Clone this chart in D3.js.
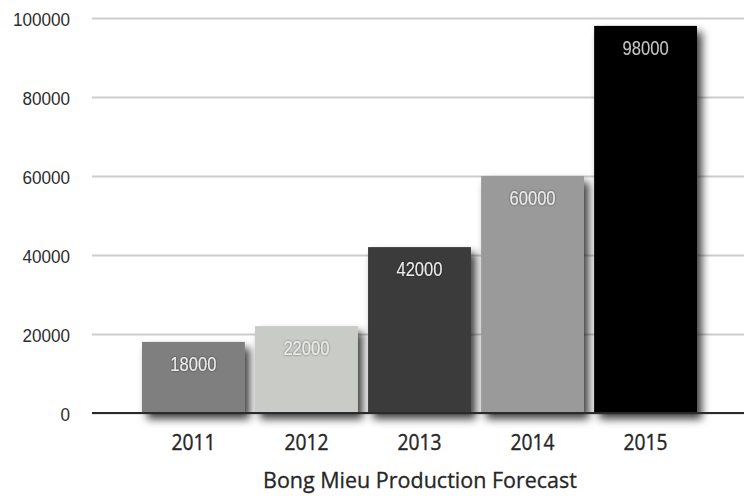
<!DOCTYPE html>
<html>
<head>
<meta charset="utf-8">
<script src="https://cdn.jsdelivr.net/npm/d3@7"></script>
<style>
  html, body { margin: 0; padding: 0; background: #fff; }
  svg { display: block; }
</style>
</head>
<body>
<svg id="chart" width="744" height="496"></svg>
<script>
// Production forecast, one bar per year
const years = ["2011", "2012", "2013", "2014", "2015"];
const production = [18000, 22000, 42000, 60000, 98000];
const barColors = ["#7f7f7f", "#c9ccc6", "#3a3a3a", "#9a9a9a", "#000000"];
const yTicks = [0, 20000, 40000, 60000, 80000, 100000];
const chartTitle = "Bong Mieu Production Forecast";

const rows = years.map((yr, i) => ({ year: yr, value: production[i], color: barColors[i] }));

const svg = d3.select("#chart");
const plot = { left: 92, right: 744, top: 18, bottom: 413 };

const x = d3.scaleBand()
  .domain(years)
  .range([142, 697])
  .paddingInner(0.09)
  .paddingOuter(0);

const y = d3.scaleLinear()
  .domain([0, 100000])
  .range([plot.bottom, plot.top]);

// Squeeze a text element horizontally around its anchor point
function squeeze(sel, factor, anchorX) {
  sel.attr("transform", function () {
    const ax = anchorX != null ? anchorX : +d3.select(this).attr("x") || 0;
    return `translate(${ax},0) scale(${factor},1) translate(${-ax},0)`;
  });
}
function fitWidth(sel, target, anchorX) {
  sel.each(function () {
    const w = this.getComputedTextLength();
    const ax = anchorX != null ? anchorX : +d3.select(this).attr("x") || 0;
    d3.select(this).attr("transform",
      `translate(${ax},0) scale(${target / w},1) translate(${-ax},0)`);
  });
}

const defs = svg.append("defs");
const barShadow = defs.append("filter").attr("id", "barShadow")
  .attr("x", "-20%").attr("y", "-10%").attr("width", "150%").attr("height", "130%");
barShadow.append("feDropShadow")
  .attr("dx", 5).attr("dy", 6).attr("stdDeviation", 4.5)
  .attr("flood-color", "#000").attr("flood-opacity", 0.75);

const textShadow = defs.append("filter").attr("id", "textShadow")
  .attr("x", "-20%").attr("y", "-30%").attr("width", "140%").attr("height", "160%");
textShadow.append("feDropShadow")
  .attr("dx", 0).attr("dy", 0).attr("stdDeviation", 1)
  .attr("flood-color", "#000").attr("flood-opacity", 0.55);

// Horizontal gridlines and value labels
const yAxis = d3.axisLeft(y)
  .tickValues(yTicks)
  .tickFormat(d3.format("d"))
  .tickSize(-(plot.right - plot.left))
  .tickPadding(22);

const gy = svg.append("g")
  .attr("transform", `translate(${plot.left},0)`)
  .call(yAxis);
gy.select(".domain").remove();
gy.selectAll(".tick line")
  .attr("stroke", "#cdcdcd")
  .attr("stroke-width", 2);
gy.selectAll(".tick text")
  .attr("fill", "#2e2e2e")
  .attr("dy", "0.42em")
  .style("font-family", "'Liberation Sans', Arial, sans-serif")
  .style("font-size", "19px")
  .call(squeeze, 0.9);

// Bars
svg.append("g")
  .selectAll("rect")
  .data(rows)
  .join("rect")
  .attr("x", d => x(d.year))
  .attr("y", d => y(d.value))
  .attr("width", x.bandwidth())
  .attr("height", d => y(0) - y(d.value))
  .attr("fill", d => d.color)
  .attr("filter", "url(#barShadow)");

// Value labels inside the bars
svg.append("g")
  .selectAll("text")
  .data(rows)
  .join("text")
  .attr("x", d => x(d.year) + x.bandwidth() / 2)
  .attr("y", d => y(d.value) + 29)
  .attr("text-anchor", "middle")
  .attr("fill", d => d.value > 90000 ? "#c4c4c4" : "#ececec")
  .attr("filter", "url(#textShadow)")
  .style("font-family", "'Liberation Sans', Arial, sans-serif")
  .style("font-size", "20px")
  .text(d => d3.format("d")(d.value))
  .call(squeeze, 0.83);

// Baseline
svg.append("line")
  .attr("x1", plot.left).attr("x2", plot.right)
  .attr("y1", y(0)).attr("y2", y(0))
  .attr("stroke", "#2a2a2a")
  .attr("stroke-width", 2);

// Year labels
const xAxis = d3.axisBottom(x).tickSize(0).tickPadding(21);
const gx = svg.append("g")
  .attr("transform", `translate(0,${y(0)})`)
  .call(xAxis);
gx.select(".domain").remove();
gx.selectAll(".tick text")
  .attr("fill", "#262626")
  .attr("stroke", "#262626")
  .attr("stroke-width", 0.4)
  .attr("dy", "0.71em")
  .style("font-family", "'Open Sans', 'Noto Sans', sans-serif")
  .style("font-size", "22px")
  .call(fitWidth, 44, 0);

// Axis title
svg.append("text")
  .attr("x", 420)
  .attr("y", 488)
  .attr("text-anchor", "middle")
  .attr("fill", "#262626")
  .attr("stroke", "#262626")
  .attr("stroke-width", 0.3)
  .style("font-family", "'Open Sans', 'Noto Sans', sans-serif")
  .style("font-size", "22px")
  .text(chartTitle)
  .call(fitWidth, 314, 420);
</script>
</body>
</html>
